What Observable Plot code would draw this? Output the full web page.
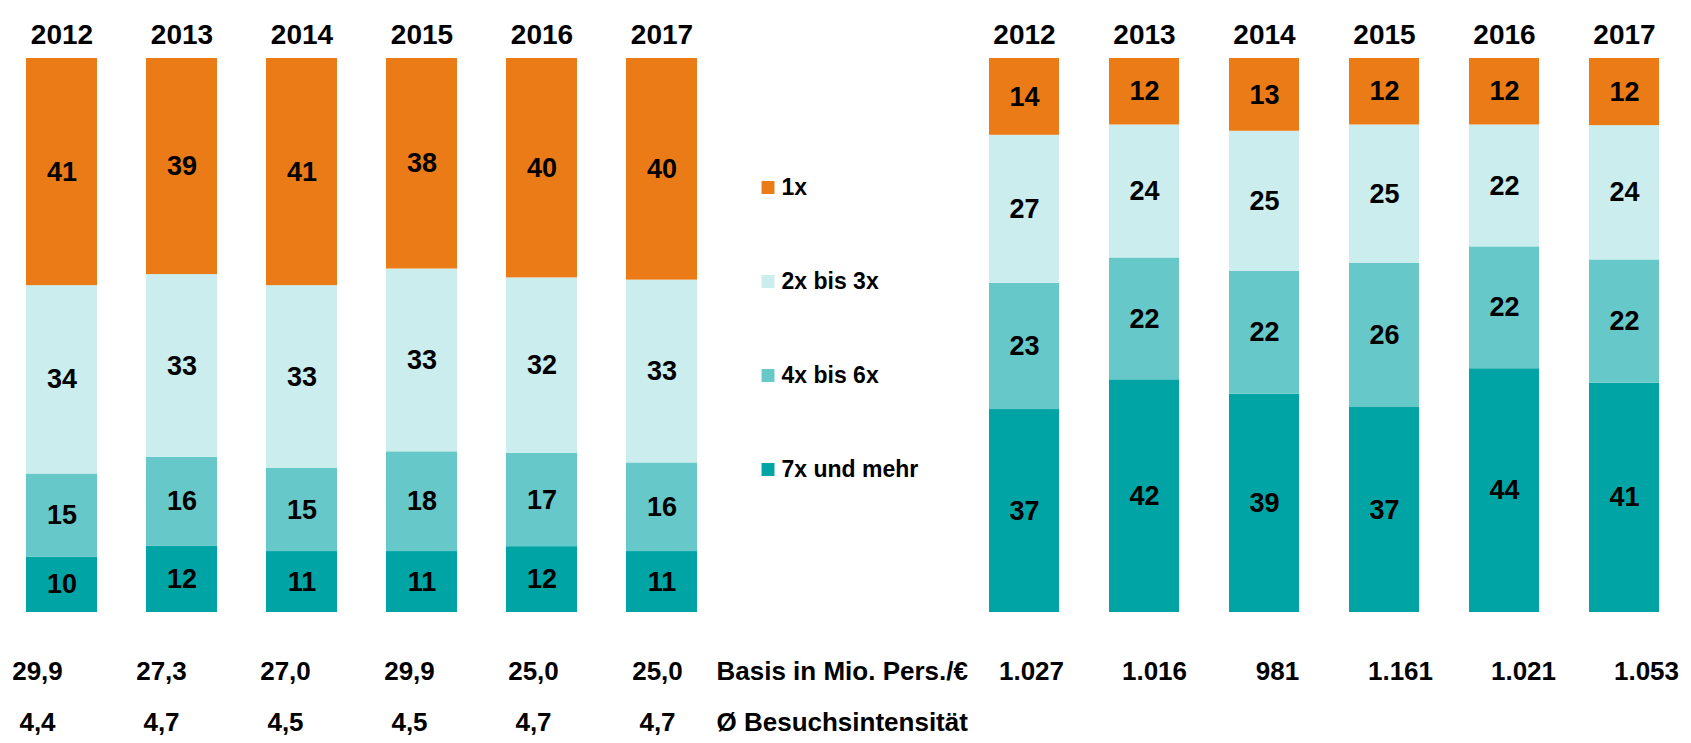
<!DOCTYPE html>
<html><head><meta charset="utf-8">
<script src="https://cdn.jsdelivr.net/npm/d3@7"></script>
<script src="https://cdn.jsdelivr.net/npm/@observablehq/plot@0.6"></script>
<style>
body{margin:0;background:#fff}
#wrap{position:relative;width:1691px;height:743px;overflow:hidden;background:#fff}
#wrap svg{position:absolute;left:0;top:0;background:transparent}
#wrap svg text{font-family:"Liberation Sans",Arial,sans-serif;font-weight:bold}
</style></head><body><div id="wrap"></div>
<script>
const years = ["2012","2013","2014","2015","2016","2017"];
// stack order: bottom to top
const categories = ["7x und mehr","4x bis 6x","2x bis 3x","1x"];
const colors = ["#00A4A4","#66C8C8","#CBEDED","#EB7B16"];

const left7plus = [10,12,11,11,12,11];
const left4to6  = [15,16,15,18,17,16];
const left2to3  = [34,33,33,33,32,33];
const left1x    = [41,39,41,38,40,40];

const right7plus = [37,42,39,37,44,41];
const right4to6  = [23,22,22,26,22,22];
const right2to3  = [27,24,25,25,22,24];
const right1x    = [14,12,13,12,12,12];

const basisLeft  = ["29,9","27,3","27,0","29,9","25,0","25,0"];
const intensLeft = ["4,4","4,7","4,5","4,5","4,7","4,7"];
const basisRight = ["1.027","1.016","981","1.161","1.021","1.053"];
const rowKeys = ["basis","intens"];
const rowLabels = ["Basis in Mio. Pers./€","Ø Besuchsintensität"];

const W = 1691, H = 743;
const wrap = document.getElementById("wrap");

function table(series){
  return years.flatMap((y,i)=>categories.map((c,j)=>({year:y, cat:c, value:series[j][i]})));
}

function bars(series, x0, x1, pad){
  const data = table(series);
  return Plot.plot({
    width:W, height:H,
    marginLeft:x0, marginRight:W-x1, marginTop:58, marginBottom:H-612,
    x:{domain:years, paddingInner:pad, paddingOuter:0, axis:null},
    y:{axis:null},
    color:{domain:categories, range:colors},
    marks:[
      Plot.barY(data, Plot.stackY({offset:"normalize"}, {x:"year", y:"value", fill:"cat"})),
      Plot.text(data, Plot.stackY({offset:"normalize"}, {x:"year", y:"value", text:d=>String(d.value), fill:"#000", fontSize:27, fontWeight:"bold"})),
      Plot.text(years, {x:d=>d, text:d=>d, frameAnchor:"top", dy:-34.7, fill:"#000", fontSize:28, fontWeight:"bold"})
    ]
  });
}

const rowY = {type:"point", domain:rowKeys, range:[671,722.5], padding:0, axis:null};

function rows(rowsData, r0, r1){
  return Plot.plot({
    width:W, height:H,
    x:{type:"point", domain:years, range:[r0,r1], padding:0, axis:null},
    y:rowY,
    marks:[
      Plot.text(rowsData, {x:"year", y:"row", text:"value", fill:"#000", fontSize:26, fontWeight:"bold"})
    ]
  });
}

const leftRows = years.flatMap((y,i)=>[{year:y,row:"basis",value:basisLeft[i]},{year:y,row:"intens",value:intensLeft[i]}]);
const rightRows = years.map((y,i)=>({year:y,row:"basis",value:basisRight[i]}));

wrap.append(bars([left7plus,left4to6,left2to3,left1x], 25, 698, 0.41));
wrap.append(bars([right7plus,right4to6,right2to3,right1x], 987.5, 1660.3, 0.413));
wrap.append(rows(leftRows, 36, 657));
wrap.append(rows(rightRows, 1030, 1647));

// row labels
wrap.append(Plot.plot({
  width:W, height:H, marginLeft:716,
  y:rowY,
  marks:[
    Plot.text(rowKeys, {y:d=>d, text:(d,i)=>rowLabels[i], frameAnchor:"left", textAnchor:"start", fill:"#000", fontSize:26, fontWeight:"bold"})
  ]
}));

// legend
const legendOrder = [...categories].reverse();
wrap.append(Plot.plot({
  width:W, height:H, marginLeft:767.5,
  y:{type:"point", domain:legendOrder, range:[185.5,469.5], padding:0, axis:null},
  color:{domain:categories, range:colors},
  marks:[
    Plot.dot(legendOrder, {y:d=>d, frameAnchor:"left", symbol:"square", r:7.3, fill:d=>d}),
    Plot.text(legendOrder, {y:d=>d, text:d=>d, frameAnchor:"left", dx:13.5, textAnchor:"start", fill:"#000", fontSize:23, fontWeight:"bold"})
  ]
}));
</script></body></html>
